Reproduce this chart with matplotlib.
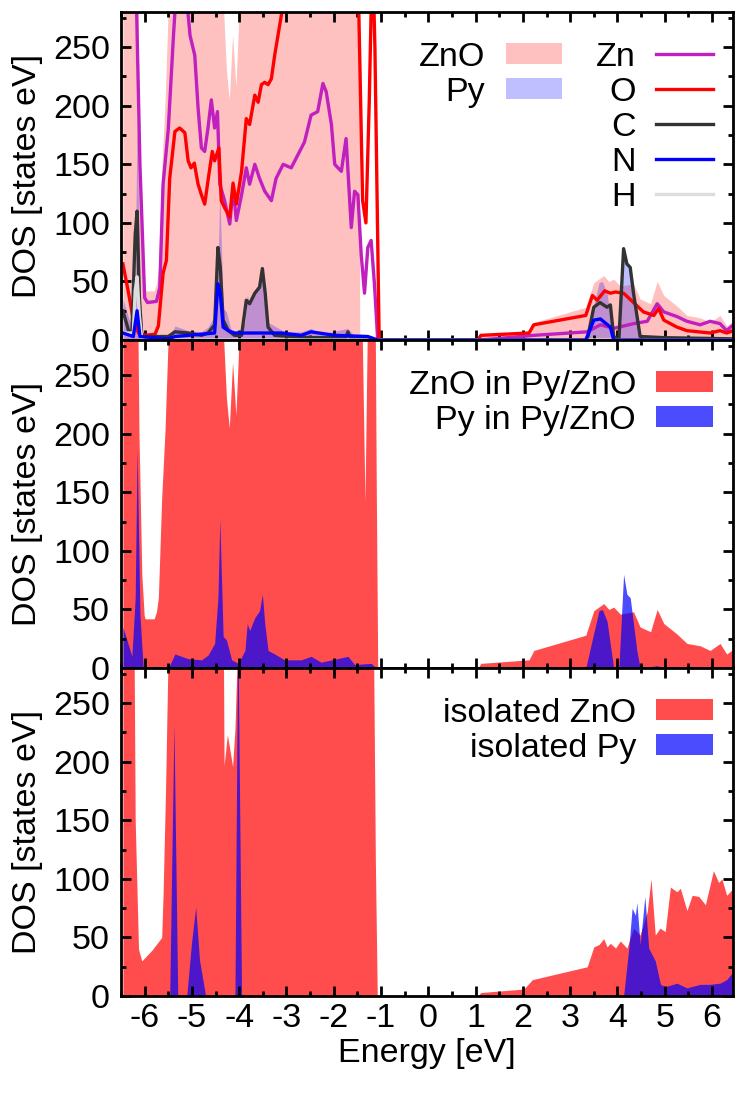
import numpy as np
import matplotlib
matplotlib.use("Agg")
import matplotlib.pyplot as plt
from matplotlib.patches import Patch
from matplotlib.lines import Line2D

plt.rcParams['font.family'] = ['Liberation Sans', 'DejaVu Sans']
plt.rcParams['axes.unicode_minus'] = False

# ---- data (energy in eV, DOS in states/eV) ----
# ZnO DOS in Py/ZnO (values above the axis top just get clipped)
e_zno = [-6.46, -6.17, -6.12, -6.06, -6.01, -5.99, -5.80, -5.75, -5.71, -5.64,
         -5.57, -5.50, -5.48, -4.36, -4.34, -4.27, -4.21, -4.14, -4.07, -4.02,
         -4.00, -3.98, -1.44, -1.40, -1.34, -1.29, -1.27, -1.14, -1.10, -1.07,
         1.05, 1.11, 2.13, 2.23, 3.33, 3.50, 3.71, 3.82, 3.92, 4.06,
         4.34, 4.48, 4.70, 4.84, 4.98, 5.26, 5.47, 5.75, 5.96, 6.17,
         6.31, 6.45]
v_zno = [400, 400, 200, 80, 45, 42, 42, 48, 60, 145,
         202, 285, 400, 400, 290, 230, 205, 261, 216, 264,
         300, 400, 400, 290, 142, 290, 400, 400, 150, 0,
         0, 4, 7, 15, 28, 49, 55, 50, 52, 46,
         48, 35, 31, 50, 38, 29, 21, 19, 15, 21,
         12, 16]

# ZnO total in the top panel (valence band edge stops earlier)
e_zno_top = [-6.46, -6.17, -6.12, -6.06, -6.01, -5.99, -5.80, -5.75, -5.71, -5.64,
             -5.57, -5.50, -5.48, -4.36, -4.34, -4.27, -4.21, -4.14, -4.07, -4.02,
             -4.00, -3.98, -1.47, -1.45, 1.05, 1.11, 2.13, 2.23, 3.33, 3.50,
             3.71, 3.82, 3.92, 4.06, 4.34, 4.48, 4.70, 4.84, 4.98, 5.26,
             5.47, 5.75, 5.96, 6.17, 6.31, 6.45]
v_zno_top = [400, 400, 200, 80, 45, 42, 42, 48, 60, 145,
             202, 285, 400, 400, 290, 230, 205, 261, 216, 264,
             300, 400, 400, 0, 0, 4, 7, 15, 28, 49,
             55, 50, 52, 46, 48, 35, 31, 50, 38, 29,
             21, 19, 15, 21, 12, 16]

# Py DOS in Py/ZnO
e_py = [-6.46, -6.27, -6.20, -6.16, -6.10, -6.03, -5.50, -5.36, -5.08, -4.80,
        -4.66, -4.52, -4.45, -4.41, -4.34, -4.27, -4.16, -4.02, -3.88, -3.83,
        -3.78, -3.67, -3.57, -3.51, -3.46, -3.39, -3.25, -3.04, -2.69, -2.48,
        -2.27, -1.70, -1.56, -1.21, -1.10, 3.33, 3.50, 3.61, 3.68, 3.78,
        3.85, 3.92, 4.03, 4.13, 4.20, 4.27, 4.41, 4.48, 4.84, 5.00, 6.45]
v_py = [35, 10, 60, 188, 46, 0, 0, 12, 8, 7,
        11, 21, 60, 127, 27, 24, 7, 4, 15, 38,
        32, 43, 49, 63, 38, 15, 12, 7, 7, 10,
        5, 10, 3, 4, 0, 0, 30, 49, 50, 40,
        20, 0, 0, 80, 63, 60, 15, 0, 2, 0, 0]

# isolated ZnO
e_zno_iso = [-6.46, -6.24, -6.20, -6.13, -6.06, -5.85, -5.64, -5.61, -5.56, -5.51,
             -5.50, -4.35, -4.32, -4.25, -4.20, -4.14, -4.09, -4.05, -4.04, -1.18,
             -1.12, -1.08, 1.05, 1.11, 2.02, 2.20, 3.36, 3.50, 3.61, 3.71,
             3.78, 3.85, 3.96, 4.06, 4.20, 4.34, 4.48, 4.63, 4.71, 4.80,
             4.90, 5.01, 5.12, 5.26, 5.33, 5.47, 5.58, 5.72, 5.86, 6.03,
             6.14, 6.21, 6.31, 6.45]
v_zno_iso = [400, 400, 150, 40, 30, 39, 50, 87, 172, 280,
             400, 400, 197, 223, 211, 196, 228, 280, 400, 400,
             115, 0, 0, 3, 6, 14, 25, 42, 44, 49,
             42, 45, 41, 47, 41, 58, 52, 72, 100, 52,
             58, 55, 93, 89, 92, 73, 86, 85, 78, 107,
             97, 100, 86, 92]

# isolated Py
e_py_iso = [-6.46, -5.47, -5.38, -5.30, -5.11, -5.01, -4.92, -4.84, -4.71, -4.09,
            -4.03, -3.95, 4.13, 4.24, 4.31, 4.38, 4.41, 4.48, 4.58, 4.66,
            4.80, 4.91, 5.01, 5.26, 5.47, 5.75, 5.96, 6.17, 6.31, 6.45]
v_py_iso = [0, 0, 232, 0, 0, 45, 76, 31, 0, 0,
            320, 0, 0, 41, 75, 69, 80, 44, 85, 41,
            30, 10, 8, 11, 7, 10, 10, 11, 14, 21]

# projected DOS lines in the top panel
e_zn = [-6.46, -6.18, -6.10, -6.00, -5.94, -5.75, -5.68, -5.61, -5.50, -5.39,
        -5.33, -5.13, -5.04, -4.94, -4.87, -4.80, -4.73, -4.66, -4.59, -4.52,
        -4.46, -4.41, -4.31, -4.20, -4.13, -4.06, -3.95, -3.85, -3.78, -3.67,
        -3.57, -3.46, -3.32, -3.22, -3.07, -2.90, -2.76, -2.62, -2.48, -2.34,
        -2.23, -2.16, -2.05, -1.98, -1.84, -1.74, -1.63, -1.56, -1.49, -1.42,
        -1.35, -1.28, -1.21, -1.14, -1.07, 1.11, 2.23, 3.36, 3.64, 3.92,
        4.34, 4.63, 4.84, 4.98, 5.26, 5.47, 5.75, 5.96, 6.17, 6.31, 6.45]
v_zn = [400, 300, 150, 36, 32, 33, 45, 133, 180, 260,
        300, 300, 260, 243, 198, 164, 161, 181, 205, 181,
        195, 133, 119, 99, 130, 102, 124, 147, 133, 150,
        138, 127, 119, 138, 150, 147, 158, 169, 192, 195,
        219, 212, 184, 150, 144, 172, 96, 127, 124, 73,
        40, 79, 85, 48, 0, 0, 4, 7, 13, 10,
        14, 16, 31, 24, 20, 16, 13, 16, 14, 8, 13]

e_o = [-6.46, -6.34, -6.24, -6.13, -5.99, -5.78, -5.71, -5.61, -5.54, -5.47,
       -5.36, -5.26, -5.15, -5.08, -5.02, -4.95, -4.87, -4.80, -4.73, -4.66,
       -4.57, -4.52, -4.43, -4.38, -4.31, -4.20, -4.13, -4.06, -3.95, -3.85,
       -3.78, -3.67, -3.60, -3.53, -3.46, -3.39, -3.32, -3.25, -3.18, -3.11,
       -3.05, -1.48, -1.39, -1.32, -1.25, -1.20, -1.16, -1.13, -1.04, 1.05,
       1.11, 2.13, 2.23, 3.33, 3.47, 3.57, 3.73, 3.85, 3.96, 4.13,
       4.34, 4.55, 4.77, 4.87, 4.98, 5.26, 5.47, 5.96, 6.17, 6.31, 6.45]
v_o = [65, 40, 17, 6, 4, 5, 12, 57, 68, 138,
       178, 181, 177, 153, 147, 151, 133, 124, 116, 136,
       161, 153, 164, 119, 113, 105, 134, 116, 144, 189,
       184, 209, 203, 218, 220, 218, 223, 243, 260, 277,
       300, 300, 119, 100, 203, 300, 300, 250, 0, 0,
       4, 6, 13, 21, 38, 34, 42, 40, 41, 40,
       32, 24, 21, 27, 17, 11, 8, 6, 8, 6, 8]

e_c = [-6.46, -6.34, -6.27, -6.20, -6.16, -6.11, -6.06, -5.50, -5.36, -5.08,
       -4.80, -4.66, -4.52, -4.45, -4.40, -4.34, -4.23, -4.10, -3.95, -3.85,
       -3.78, -3.67, -3.57, -3.51, -3.45, -3.39, -3.25, -2.50, -1.75, -1.70,
       -1.65, -1.07, 3.36, 3.50, 3.63, 3.78, 3.85, 3.92, 4.03, 4.13,
       4.20, 4.27, 4.34, 4.48, 5.00, 6.45]
v_c = [25, 8, 6, 90, 110, 34, 3, 3, 7, 6,
       4, 6, 13, 79, 62, 17, 8, 4, 4, 34,
       31, 40, 45, 61, 40, 11, 4, 2, 2, 7,
       2, 0, 0, 28, 32, 28, 30, 3, 0, 78,
       65, 62, 40, 3, 2, 1]

e_n = [-6.46, -6.24, -6.16, -6.10, -5.50, -5.36, -4.52, -4.45, -4.40, -4.34,
       -4.23, -4.10, -3.75, -3.11, -2.69, -2.48, -1.98, -1.28, -1.07, 3.33,
       3.50, 3.64, 3.85, 3.92, 6.45]
v_n = [6, 3, 25, 3, 1, 3, 6, 48, 40, 11,
       8, 6, 6, 6, 4, 7, 4, 3, 0, 0,
       17, 18, 11, 0, 0]

e_h = [-6.46, -6.24, -6.20, -6.16, -6.11, -6.06, 6.45]
v_h = [6, 6, 42, 54, 20, 0, 0]

# ---- style ----
zno_col = '#ff4d4d'
py_col = '#0000ff'
fs = 24.5
lw = 2.4

fig, axes = plt.subplots(3, 1, figsize=(7.47, 10.93), dpi=100, sharex=True)
fig.subplots_adjust(left=0.162, right=0.981, top=0.989, bottom=0.0887, hspace=0)

ax1, ax2, ax3 = axes

# top panel: fills + element projected lines
ax1.fill_between(e_zno_top, v_zno_top, color=zno_col, alpha=0.35, lw=0)
ax1.fill_between(e_py, v_py, color=py_col, alpha=0.25, lw=0)
ax1.plot(e_zn, v_zn, color='#c020c0', lw=lw, zorder=3)
ax1.plot(e_o, v_o, color='#ff0000', lw=lw, zorder=3)
ax1.plot(e_c, v_c, color='#333333', lw=lw, zorder=4)
ax1.plot(e_h, v_h, color='#dddddd', lw=lw, zorder=5)
ax1.plot(e_n, v_n, color='#0000ff', lw=lw, zorder=6)

# middle: Py/ZnO
ax2.fill_between(e_zno, v_zno, color=zno_col, lw=0)
ax2.fill_between(e_py, v_py, color=py_col, alpha=0.7, lw=0)

# bottom: isolated
ax3.fill_between(e_zno_iso, v_zno_iso, color=zno_col, lw=0)
ax3.fill_between(e_py_iso, v_py_iso, color=py_col, alpha=0.7, lw=0)

for ax in axes:
    ax.set_xlim(-6.46, 6.44)
    ax.set_ylim(0, 280)
    ax.set_yticks([0, 50, 100, 150, 200, 250])
    ax.set_yticks(np.arange(25, 280, 50), minor=True)
    ax.set_xticks(np.arange(-6, 7, 1))
    ax.set_xticks(np.arange(-6.5, 6.5, 0.5), minor=True)
    ax.tick_params(which='both', direction='in', top=True, right=True, width=2,
                   labelsize=fs)
    ax.tick_params(which='major', length=7)
    ax.tick_params(which='minor', length=3.6)
    ax.tick_params(axis='y', pad=8)
    ax.tick_params(axis='x', pad=5)
    for sp in ax.spines.values():
        sp.set_linewidth(2)
        sp.set_zorder(10)
    ax.set_ylabel('DOS [states eV]', fontsize=fs, labelpad=7)

ax3.set_xlabel('Energy [eV]', fontsize=fs, labelpad=3)

leg_kw = dict(frameon=False, markerfirst=False, fontsize=fs, handlelength=1.65,
              handletextpad=0.6, handleheight=0.6, labelspacing=0.12, borderpad=0,
              borderaxespad=0, loc='upper right')

# top panel legends
fill_handles = [Patch(color=zno_col, alpha=0.35, lw=0), Patch(color=py_col, alpha=0.25, lw=0)]
leg_a = ax1.legend(fill_handles, ['ZnO', 'Py'], bbox_to_anchor=(0.7206, 0.91), **leg_kw)
ax1.add_artist(leg_a)
line_cols = ['#c020c0', '#ff0000', '#333333', '#0000ff', '#dddddd']
line_handles = [Line2D([], [], color=c, lw=lw) for c in line_cols]
ax1.legend(line_handles, ['Zn', 'O', 'C', 'N', 'H'], bbox_to_anchor=(0.967, 0.91), **leg_kw)

h2 = [Patch(color=zno_col, lw=0), Patch(color=py_col, alpha=0.7, lw=0)]
ax2.legend(h2, ['ZnO in Py/ZnO', 'Py in Py/ZnO'], bbox_to_anchor=(0.967, 0.91), **leg_kw)
ax3.legend(h2, ['isolated ZnO', 'isolated Py'], bbox_to_anchor=(0.967, 0.91), **leg_kw)

fig.savefig('out.png', dpi=100)
